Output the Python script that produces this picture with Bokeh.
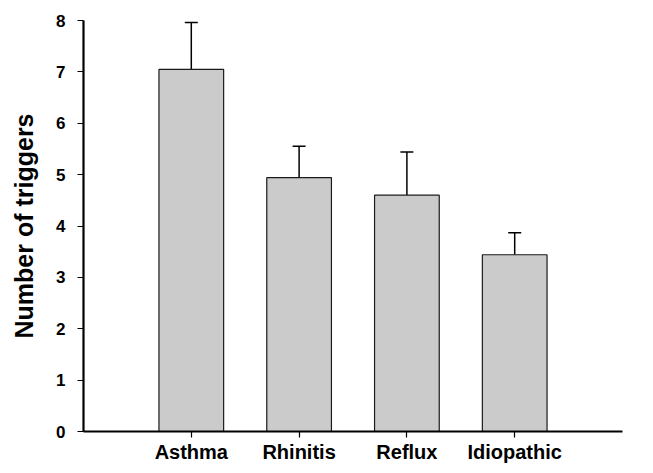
from bokeh.plotting import figure
from bokeh.models import ColumnDataSource, FactorRange, Range1d, Whisker, TeeHead, FixedTicker
from bokeh.embed import file_html
from bokeh.resources import INLINE

categories = ["Asthma", "Rhinitis", "Reflux", "Idiopathic"]
means = [7.05, 4.94, 4.60, 3.44]
errors = [0.91, 0.61, 0.84, 0.43]
y_ticks = [0, 1, 2, 3, 4, 5, 6, 7, 8]

upper = [m + e for m, e in zip(means, errors)]
src = ColumnDataSource(dict(cat=categories, mean=means, upper=upper))

p = figure(width=645, height=465, output_backend="svg", toolbar_location=None,
           x_range=FactorRange(factors=categories, range_padding=0.5, range_padding_units="absolute"),
           y_range=Range1d(0, 8),
           min_border_left=83, min_border_right=23, min_border_top=20, min_border_bottom=30)
p.outline_line_color = None
p.xgrid.grid_line_color = None
p.ygrid.grid_line_color = None
p.background_fill_color = "white"
p.border_fill_color = "white"

p.vbar(x="cat", top="mean", bottom=0, width=0.6, source=src,
       fill_color="#cbcbcb", line_color="#1a1a1a", line_width=1.2)

w = Whisker(base="cat", upper="upper", lower="mean", source=src,
            lower_head=None, upper_head=TeeHead(size=13, line_color="black", line_width=1.5),
            line_color="black", line_width=1.5)
p.add_layout(w)

font = "Liberation Sans"
p.yaxis.ticker = FixedTicker(ticks=y_ticks)
p.yaxis.axis_label = "Number of triggers"
p.yaxis.axis_label_text_font = font
p.yaxis.axis_label_text_font_style = "bold"
p.yaxis.axis_label_text_font_size = "25px"
p.yaxis.axis_label_text_color = "black"
p.yaxis.axis_label_standoff = 15
p.yaxis.major_label_text_font = font
p.yaxis.major_label_text_font_style = "bold"
p.yaxis.major_label_text_font_size = "17px"
p.yaxis.major_label_text_color = "black"
p.yaxis.major_label_standoff = 12
p.yaxis.minor_tick_line_color = None

p.xaxis.major_label_text_font = font
p.xaxis.major_label_text_font_style = "bold"
p.xaxis.major_label_text_font_size = "20px"
p.xaxis.major_label_text_color = "black"
p.xaxis.major_label_standoff = 3

for ax in (p.xaxis, p.yaxis):
    ax.axis_line_color = "black"
    ax.axis_line_width = 2.2
    ax.major_tick_line_color = "black"
    ax.major_tick_line_width = 1.2
    ax.major_tick_out = 6
    ax.major_tick_in = 0

open("out.html", "w").write(file_html(p, INLINE))
